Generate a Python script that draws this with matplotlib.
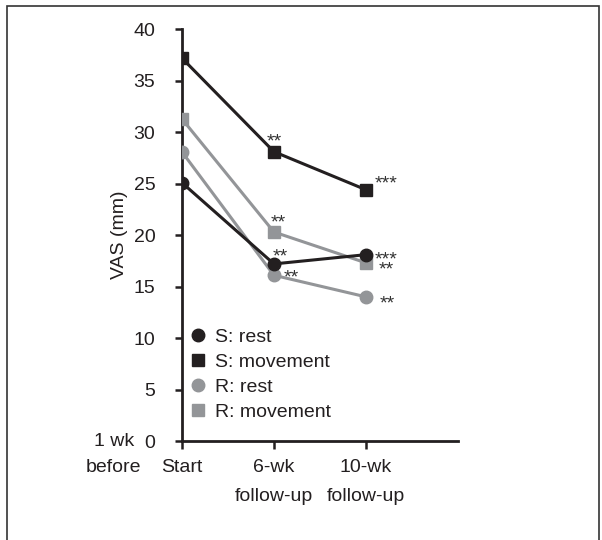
import matplotlib
matplotlib.use("Agg")
import matplotlib.pyplot as plt
from matplotlib.patches import Rectangle

# data
x_pos = [0, 1, 2]
x_labels = ["Start", "6-wk\nfollow-up", "10-wk\nfollow-up"]
s_rest = [25.1, 17.2, 18.1]
s_move = [37.2, 28.1, 24.4]
r_rest = [28.1, 16.1, 14.0]
r_move = [31.3, 20.3, 17.3]
# significance marks at each time point
s_rest_sig = ["", "**", "***"]
s_move_sig = ["", "**", "***"]
r_rest_sig = ["", "**", "**"]
r_move_sig = ["", "**", "**"]

black = "#231f20"
grey = "#939598"
fs = 14

plt.rcParams['font.family'] = ['Liberation Sans', 'DejaVu Sans']
fig = plt.figure(figsize=(6.02, 5.40), dpi=100)
ax = fig.add_axes([0.302, 0.1833, 0.459, 0.7627])

ax.plot(x_pos, r_rest, '-o', color=grey, lw=2.2, ms=9, label="R: rest", zorder=3)
ax.plot(x_pos, r_move, '-s', color=grey, lw=2.2, ms=9, label="R: movement", zorder=3)
ax.plot(x_pos, s_rest, '-o', color=black, lw=2.2, ms=9, label="S: rest", zorder=4)
ax.plot(x_pos, s_move, '-s', color=black, lw=2.2, ms=9, label="S: movement", zorder=4)

# star annotations, offsets in pixels from the marker (to the star centre)
star_off = {
    "s_move": [None, (0, 14), (20, 10)],
    "r_move": [None, (4, 13), (20, -3)],
    "s_rest": [None, (6, 11), (20, -1)],
    "r_rest": [None, (17, 1), (21, -3)],
}
series = {"s_move": (s_move, s_move_sig), "r_move": (r_move, r_move_sig),
          "s_rest": (s_rest, s_rest_sig), "r_rest": (r_rest, r_rest_sig)}
for key, (vals, sigs) in series.items():
    for i in range(len(x_pos)):
        if sigs[i] == "":
            continue
        dx, dy = star_off[key][i]
        ax.annotate(sigs[i], (x_pos[i], vals[i]), xytext=(dx, dy - 8.5),
                    textcoords='offset pixels', ha='center', va='baseline',
                    fontsize=fs, color='#333333', zorder=5)

ax.set_xlim(0, 3)
ax.set_ylim(0, 40)
ax.set_yticks(range(0, 41, 5))
ax.set_xticks(x_pos)
ax.set_xticklabels(x_labels, fontsize=fs, linespacing=1.95)
ax.tick_params(axis='y', labelsize=fs, direction='out', length=5, width=1.8,
               color=black, pad=14, labelcolor=black)
ax.tick_params(axis='x', direction='out', length=6, width=1.8, color=black,
               pad=7, labelcolor=black)
ax.spines['top'].set_visible(False)
ax.spines['right'].set_visible(False)
for sp in ['left', 'bottom']:
    ax.spines[sp].set_linewidth(2)
    ax.spines[sp].set_color(black)
ax.set_ylabel("VAS (mm)", fontsize=fs, labelpad=4, color=black)

# "1 wk before" label left of the y axis
ax.annotate("1 wk", (-0.74, 0), xytext=(0, 0), textcoords='offset pixels',
            ha='center', va='center', fontsize=fs, color=black, annotation_clip=False)
ax.annotate("before", (-0.74, 0), xytext=(0, -26), textcoords='offset pixels',
            ha='center', va='center', fontsize=fs, color=black, annotation_clip=False)

h, l = ax.get_legend_handles_labels()
order = [2, 3, 0, 1]
leg = ax.legend([h[i] for i in order], [l[i] for i in order], loc='lower left',
                bbox_to_anchor=(0.035, 0.048), frameon=False, fontsize=fs,
                handlelength=0.7, handletextpad=0.5, labelspacing=0.38,
                borderaxespad=0, borderpad=0)
for hd in leg.legend_handles:
    hd.set_linestyle('none')
for t in leg.get_texts():
    t.set_color(black)

fig.patches.append(Rectangle((7 / 602, -0.05), 592 / 602, 1.05 - 6 / 540,
                             transform=fig.transFigure, fill=False,
                             edgecolor='#333333', lw=1.2))

plt.savefig("out.png", dpi=100)
